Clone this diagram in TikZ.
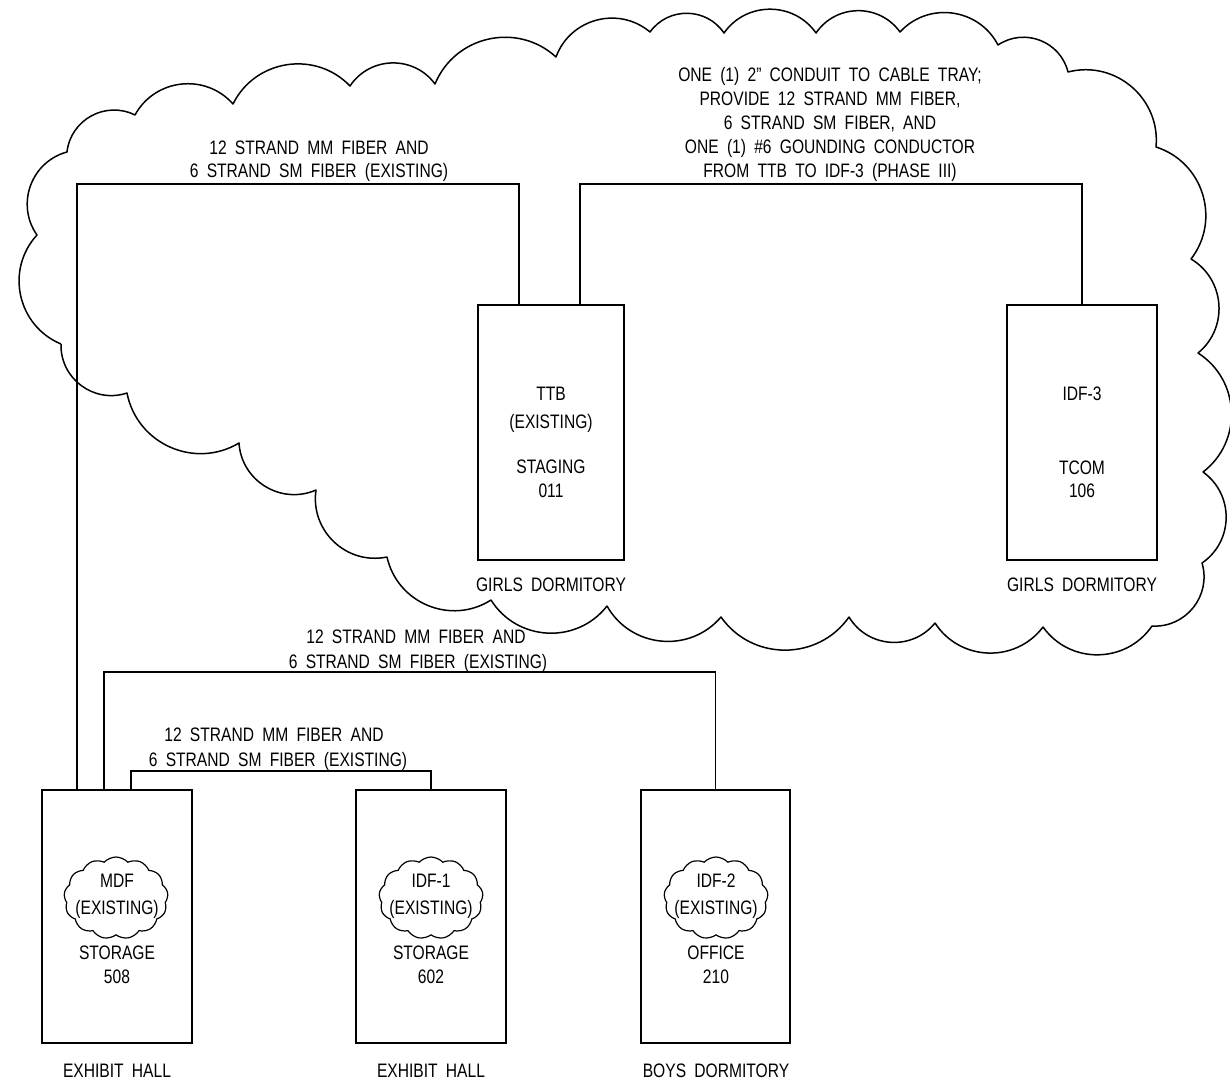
\documentclass[tikz,border=0pt]{standalone}
\usepackage{fontspec}
\setmainfont[FakeStretch=0.8, WordSpace=1.9]{Liberation Sans}
\usetikzlibrary{shapes.symbols}

\begin{document}
\begin{tikzpicture}[x=1pt, y=1pt,
  wire/.style={line width=1.5pt, line join=miter},
  room/.style={draw, line width=1.5pt, inner sep=0pt, minimum width=150pt, minimum height=253pt},
  lbl/.style={font=\fontsize{19.5}{23.5}\selectfont, inner sep=0pt, anchor=base},
  puff/.style={cloud, cloud puffs=13, cloud puff arc=95, draw, line width=1.2pt,
               inner sep=0pt, minimum width=104pt, minimum height=82pt},
  rev/.style={bend left=55, looseness=1.08}]

\useasboundingbox (0,0) rectangle (1230,-1082);

% ---------- revision cloud around the Girls Dormitory part ----------
\draw[wire, line join=round]
  (61,-344) to[rev] (37,-235) to[rev] (67,-152) to[rev] (135,-115)
  to[rev] (233,-104) to[rev] (350,-86) to[rev] (435,-84) to[rev] (556,-57)
  to[rev] (650,-32) to[rev] (724,-33) to[rev] (816,-33) to[rev] (900,-32)
  to[rev] (998,-45) to[rev] (1068,-72) to[rev] (1156,-147) to[rev] (1191,-259)
  to[rev] (1198,-353) to[rev] (1203,-472) to[rev] (1202,-563) to[rev] (1152,-626)
  to[rev] (1043,-627) to[rev] (935,-623) to[rev] (849,-617) to[rev] (721,-617)
  to[rev] (607,-606) to[rev] (491,-600) to[rev] (387,-557) to[rev] (316,-490)
  to[rev] (239,-443) to[rev] (127,-393) to[rev] (61,-344);

% ---------- rooms ----------
\node[room, minimum width=146pt, minimum height=255pt] (ttb) at (551,-432.5) {};
\node[room, minimum height=255pt] (idf3) at (1082,-432.5) {};
\node[room] (mdf)  at (117,-916.5) {};
\node[room] (idf1) at (431,-916.5) {};
\node[room, minimum width=149pt] (idf2) at (715.5,-916.5) {};

% small clouds marking existing equipment
\node[puff] (cmdf)  at (116,-898) {};
\node[puff] (cidf1) at (431,-898) {};
\node[puff] (cidf2) at (716,-898) {};

% ---------- routing heights ----------
\coordinate (runA) at (0,-184);
\coordinate (runB) at (0,-672);
\coordinate (runC) at (0,-771);

% ---------- fiber runs ----------
\draw[wire] ([xshift=-40pt]mdf.north) -- ([xshift=-40pt]mdf.north |- runA)
            -| ([xshift=-32pt]ttb.north);
\draw[wire] ([xshift=29pt]ttb.north) -- ([xshift=29pt]ttb.north |- runA)
            -| (idf3.north);
\draw[wire] ([xshift=-13pt]mdf.north) -- ([xshift=-13pt]mdf.north |- runB)
            -| (idf2.north);
\draw[wire] ([xshift=14pt]mdf.north) -- ([xshift=14pt]mdf.north |- runC)
            -| (idf1.north);

% ---------- run labels ----------
\node[lbl] (la1) at (319,-154) {12 STRAND MM FIBER AND};
\node[lbl] (la2) at (319,-177) {6 STRAND SM FIBER (EXISTING)};

\node[lbl] (lb1) at (830,-81)  {ONE (1) 2” CONDUIT TO CABLE TRAY;};
\node[lbl] (lb2) at (830,-105) {PROVIDE 12 STRAND MM FIBER,};
\node[lbl] (lb3) at (830,-129) {6 STRAND SM FIBER, AND};
\node[lbl] (lb4) at (830,-153) {ONE (1) \#6 GOUNDING CONDUCTOR};
\node[lbl] (lb5) at (830,-177) {FROM TTB TO IDF-3 (PHASE III)};

\node[lbl] (lc1) at (416,-643) {12 STRAND MM FIBER AND};
\node[lbl] (lc2) at (418,-668) {6 STRAND SM FIBER (EXISTING)};

\node[lbl] (ld1) at (274,-741) {12 STRAND MM FIBER AND};
\node[lbl] (ld2) at (278,-766) {6 STRAND SM FIBER (EXISTING)};

% ---------- room texts ----------
\node[lbl] (t1) at (551,-400) {TTB};
\node[lbl] (t2) at (551,-428) {(EXISTING)};
\node[lbl] (t3) at (551,-473) {STAGING};
\node[lbl] (t4) at (551,-497) {011};
\node[lbl] (t5) at (551,-591) {GIRLS DORMITORY};

\node[lbl] (u1) at (1082,-400) {IDF-3};
\node[lbl] (u2) at (1082,-474) {TCOM};
\node[lbl] (u3) at (1082,-497) {106};
\node[lbl] (u4) at (1082,-591) {GIRLS DORMITORY};

\node[lbl] (m1) at (117,-887) {MDF};
\node[lbl] (m2) at (117,-914) {(EXISTING)};
\node[lbl] (m3) at (117,-959) {STORAGE};
\node[lbl] (m4) at (117,-983) {508};
\node[lbl] (m5) at (117,-1077) {EXHIBIT HALL};

\node[lbl] (i1) at (431,-887) {IDF-1};
\node[lbl] (i2) at (431,-914) {(EXISTING)};
\node[lbl] (i3) at (431,-959) {STORAGE};
\node[lbl] (i4) at (431,-983) {602};
\node[lbl] (i5) at (431,-1077) {EXHIBIT HALL};

\node[lbl] (j1) at (716,-887) {IDF-2};
\node[lbl] (j2) at (716,-914) {(EXISTING)};
\node[lbl] (j3) at (716,-959) {OFFICE};
\node[lbl] (j4) at (716,-983) {210};
\node[lbl] (j5) at (716,-1077) {BOYS DORMITORY};
\end{tikzpicture}
\end{document}
